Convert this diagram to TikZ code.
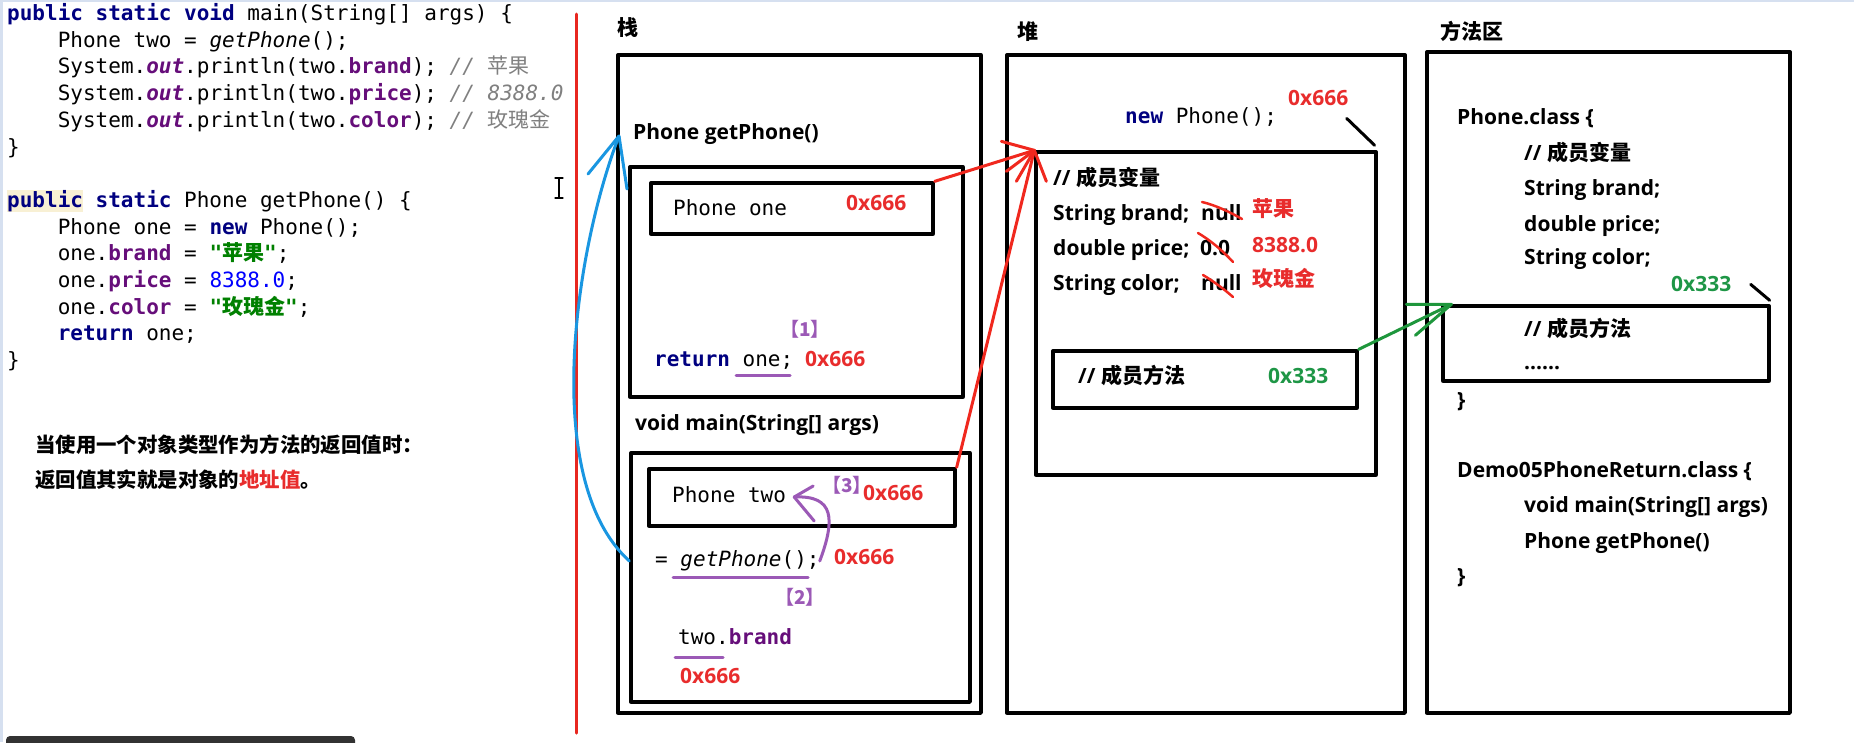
\documentclass[tikz,border=0pt]{standalone}
\usepackage{fontspec}
\setmainfont{Open Sans}
\setmonofont{DejaVu Sans Mono}
\newfontfamily\cjk{Noto Sans CJK SC}
\usepackage{xcolor}
\usetikzlibrary{fit, calc}

\definecolor{kwblue}{RGB}{0,0,128}
\definecolor{fldpurple}{RGB}{102,14,122}
\definecolor{cmtgrey}{RGB}{128,128,128}
\definecolor{strgreen}{RGB}{0,128,0}
\definecolor{numblue}{RGB}{0,0,255}
\definecolor{hlbeige}{RGB}{248,240,212}
\definecolor{addrred}{RGB}{232,44,44}
\definecolor{addrgreen}{RGB}{30,150,70}
\definecolor{arrred}{RGB}{240,40,30}
\definecolor{arrblue}{RGB}{25,150,225}
\definecolor{arrgreen}{RGB}{30,150,60}
\definecolor{markpurple}{RGB}{155,89,182}
\definecolor{barline}{RGB}{232,40,32}
\definecolor{edge}{RGB}{214,224,240}
\definecolor{taskbar}{RGB}{50,50,50}

%% code colouring
\newcommand\kw[1]{{\color{kwblue}\bfseries #1}}
\newcommand\fld[1]{{\color{fldpurple}\bfseries #1}}
\newcommand\cmt[1]{{\color{cmtgrey}\itshape #1}}
\newcommand\strg[1]{{\color{strgreen}\bfseries #1}}
\newcommand\nmb[1]{{\color{numblue}#1}}
\setlength{\fboxsep}{0pt}

\tikzset{
  box/.style       = {draw=black, line width=3.3pt, inner sep=0pt},
  codeline/.style  = {anchor=west, inner sep=0pt, text height=16pt, text depth=5pt,
                      font=\ttfamily\fontsize{21}{21}\selectfont},
  sans/.style      = {anchor=west, inner sep=0pt, text height=16pt, text depth=5pt,
                      font=\bfseries\fontsize{21}{21}\selectfont},
  addr/.style      = {sans, text=addrred},
  gaddr/.style     = {sans, text=addrgreen},
  val/.style       = {sans, text=addrred},
  tag/.style       = {anchor=west, inner sep=0pt, text=markpurple,
                      font=\cjk\bfseries\fontsize{19}{19}\selectfont},
  arealabel/.style = {anchor=west, inner sep=0pt, font=\cjk\bfseries\fontsize{21}{21}\selectfont},
  note/.style      = {anchor=west, inner sep=0pt, font=\cjk\bfseries\fontsize{20.4}{20.4}\selectfont},
  %% connectors (hand-drawn heads are drawn as barbs) and marks
  bluearr/.style   = {draw=arrblue, line width=3pt},
  redarr/.style    = {draw=arrred, line width=3pt},
  greenarr/.style  = {draw=arrgreen, line width=3pt},
  purparr/.style   = {draw=markpurple, line width=3pt},
  uline/.style     = {draw=markpurple, line width=3pt},
  strike/.style    = {draw=arrred, line width=2.5pt},
  pointer/.style   = {draw=black, line width=3pt},
}

\begin{document}
\begin{tikzpicture}[x=1pt, y=-1pt, line cap=round, line join=round]
\useasboundingbox (0,0) rectangle (1854,742);

%% ---- screen edges ----
\fill[edge] (0,0) rectangle (3,742);
\fill[edge] (0,0) rectangle (1854,2);
\fill[taskbar, rounded corners=4pt] (6,736) rectangle (355,750);

%% ---- (1) Source code ----
\node[codeline] (m1)  at (7,15)      {\kw{public static void} main(String[] args) \{};
\node[codeline] (m2)  at (57.6,41.7) {Phone two = \textit{getPhone}();};
\node[codeline] (m3)  at (57.6,68.4) {System.\fld{\itshape out}.println(two.\fld{brand}); \cmt{// {\cjk\upshape 苹果}}};
\node[codeline] (m4)  at (57.6,95.1) {System.\fld{\itshape out}.println(two.\fld{price}); \cmt{// 8388.0}};
\node[codeline] (m5)  at (57.6,121.8){System.\fld{\itshape out}.println(two.\fld{color}); \cmt{// {\cjk\upshape 玫瑰金}}};
\node[codeline] (m6)  at (7,148.5)   {\}};

\node[codeline] (g1)  at (7,201.9)   {\colorbox{hlbeige}{\kw{public}} \kw{static} Phone getPhone() \{};
\node[codeline] (g2)  at (57.6,228.6){Phone one = \kw{new} Phone();};
\node[codeline] (g3)  at (57.6,255.3){one.\fld{brand} = \strg{"{\cjk 苹果}"};};
\node[codeline] (g4)  at (57.6,282)  {one.\fld{price} = \nmb{8388.0};};
\node[codeline] (g5)  at (57.6,308.7){one.\fld{color} = \strg{"{\cjk 玫瑰金}"};};
\node[codeline] (g6)  at (57.6,335.4){\kw{return} one;};
\node[codeline] (g7)  at (7,362.1)   {\}};

%% text cursor
\draw[line width=1.2pt] (555,178) -- (563,178) (559,178) -- (559,198) (555,198) -- (563,198);

%% ---- (2) Note ----
\node[note] (note1) at (35,445) {当使用一个对象类型作为方法的返回值时：};
\node[note] (note2) at (35,480) {返回值其实就是对象的{\color{addrred}地址值}。};

%% divider
\draw[barline, line width=3pt] (576,14) -- (576,733);

%% ---- (3) Stack ----
\node[arealabel] (stacklbl) at (617,28) {栈};
\node[box, fit={(618,55) (981,713)}] (stack) {};

\node[sans] (getlbl) at (633,134) {Phone getPhone()};
\node[box, fit={(630,167) (963,397)}] (getframe) {};
\node[box, fit={(651,183) (933,234)}] (one) {};
\node[codeline] (onetxt)  at (673,210) {Phone one};
\node[addr]     (oneaddr) at (846,205) {0x666};
\node[tag]      (tag1)    at (780,329) {【1】};
\node[codeline] (ret)     at (654,361) {\kw{return} one;};
\node[addr]     (retaddr) at (805,361) {0x666};
\draw[uline] (736,375) -- (790,375);

\node[sans] (mainlbl) at (635,425) {void main(String[] args)};
\node[box, fit={(631,453) (970,702)}] (mainframe) {};
\node[box, fit={(649,469) (955,526)}] (two) {};
\node[codeline] (twotxt)   at (672,497) {Phone two};
\node[tag]      (tag3)     at (822,485) {【3】};
\node[addr]     (twoaddr)  at (863,495) {0x666};
\node[codeline] (call)     at (655,561) {= \textit{getPhone}();};
\node[addr]     (calladdr) at (834,559) {0x666};
\draw[uline] (673,577) -- (808,577);
\node[tag]      (tag2)     at (775,597) {【2】};
\node[codeline] (use)      at (678,639) {two.\fld{brand}};
\draw[uline] (675,657) -- (723,657);
\node[addr]     (useaddr)  at (680,678) {0x666};

%% ---- (4) Heap ----
\node[arealabel] (heaplbl) at (1017,32) {堆};
\node[box, fit={(1007,55) (1405,713)}] (heap) {};
\node[codeline] (newtxt)  at (1125,118) {\kw{new} Phone();};
\node[addr]     (objaddr) at (1288,100) {0x666};
\node[box, fit={(1036,152) (1376,475)}] (obj) {};
\draw[pointer] ([shift={(-3,-5)}]obj.north east) -- ++(-28,-27);

\node[sans] (objvars) at (1053,180) {// {\cjk 成员变量}};
\node[sans] (f1) at (1053,215) {String brand;};
\node[sans] (v1) at (1201,215) {null};
\node[sans] (f2) at (1053,250) {double price;};
\node[sans] (v2) at (1200,250) {0.0};
\node[sans] (f3) at (1053,285) {String color;};
\node[sans] (v3) at (1201,285) {null};
\node[val]  (n1) at (1252,211) {\cjk 苹果};
\node[val]  (n2) at (1252,247) {8388.0};
\node[val]  (n3) at (1252,281) {\cjk 玫瑰金};
%% crossed-out defaults
\draw[strike] (1202,202) .. controls (1215,205) and (1230,212) .. (1242,219);
\draw[strike] (1198,233) .. controls (1210,240) and (1222,250) .. (1233,262);
\draw[strike] (1203,275) .. controls (1213,281) and (1224,289) .. (1233,297);

\node[box, fit={(1053,351) (1357,408)}] (objmeth) {};
\node[sans]  (objmethtxt) at (1078,378) {// {\cjk 成员方法}};
\node[gaddr] (methaddr)   at (1268,378) {0x333};

%% ---- (5) Method area ----
\node[arealabel] (arealbl) at (1440,31) {方法区};
\node[box, fit={(1427,52) (1790,713)}] (area) {};
\node[sans] (cls1)  at (1457,119) {Phone.class \{};
\node[sans] (cls2)  at (1524,155) {// {\cjk 成员变量}};
\node[sans] (cls3)  at (1524,190) {String brand;};
\node[sans] (cls4)  at (1524,226) {double price;};
\node[sans] (cls5)  at (1524,259) {String color;};
\node[gaddr] (clsaddr) at (1671,286) {0x333};
\node[box, fit={(1443,306) (1769,381)}] (clsmeth) {};
\draw[pointer] ([shift={(-1,-4)}]clsmeth.north east) -- ++(-19,-16);
\node[sans] (cls6)  at (1524,331) {// {\cjk 成员方法}};
\node[sans] (cls7)  at (1524,364) {......};
\node[sans] (cls8)  at (1457,402) {\}};
\node[sans] (demo1) at (1457,472) {Demo05PhoneReturn.class \{};
\node[sans] (demo2) at (1524,507) {void main(String[] args)};
\node[sans] (demo3) at (1524,543) {Phone getPhone()};
\node[sans] (demo4) at (1457,578) {\}};

%% ---- (6) Connectors ----
\coordinate (bluetip)  at ([shift={(-14,2)}]getlbl.west);
\coordinate (greentip) at ([xshift=10pt]clsmeth.north west);
\coordinate (purptip)  at ([xshift=8pt]twotxt.east);

\draw[bluearr] (mainframe.west |- call.west) .. controls (540,480) and (575,250) .. (bluetip);
\draw[bluearr] (bluetip) -- ++(-31,38) (bluetip) -- ++(8,53);

\draw[redarr] (one.north east) -- (obj.north west);
\draw[redarr] (obj.north west) -- ++(-33,-9) (obj.north west) -- ++(-28,21);
\draw[redarr] (two.north east) -- (obj.north west);
\draw[redarr] (obj.north west) -- ++(-18,31) (obj.north west) -- ++(12,31);

\draw[greenarr] (objmeth.north east) -- (greentip);
\draw[greenarr] (greentip) -- ++(-45,0) (greentip) -- ++(-36,31);

\draw[purparr] (call.east) .. controls (835,520) and (835,495) .. (purptip);
\draw[purparr] (purptip) -- ++(19,-11) (purptip) -- ++(20,24);

\end{tikzpicture}
\end{document}
